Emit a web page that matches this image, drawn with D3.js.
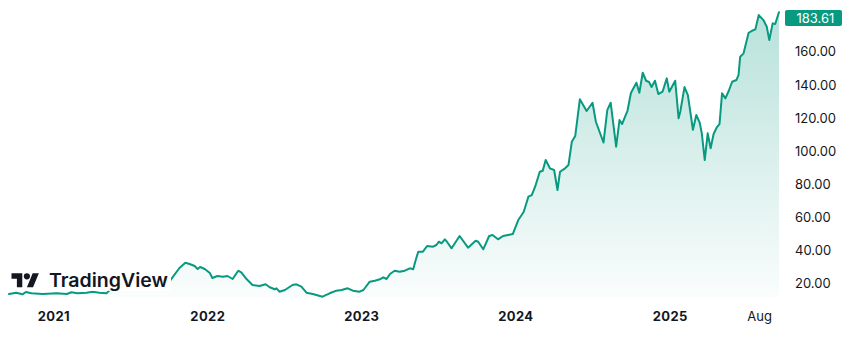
<!DOCTYPE html>
<html>
<head>
<meta charset="utf-8">
<script src="https://cdn.jsdelivr.net/npm/d3@7"></script>
<style>
  html, body { margin: 0; padding: 0; background: #ffffff; }
  svg { display: block; font-family: Inter, Roboto, "Noto Sans", sans-serif; }
</style>
</head>
<body>
<svg id="chart" width="845" height="341"></svg>
<script>
// ---- data (weekly-ish closes, split adjusted) ----
const dates = [
  "2020-09-18","2020-10-05","2020-10-20","2020-10-28","2020-11-10","2020-12-07",
  "2021-01-09","2021-02-02","2021-02-13","2021-02-27","2021-03-21","2021-04-04",
  "2021-04-20","2021-05-07","2021-05-16","2021-05-28","2021-06-07","2021-06-23",
  "2021-07-12","2021-07-29","2021-08-17","2021-09-03","2021-09-17","2021-10-03",
  "2021-10-27","2021-11-10","2021-11-20","2021-12-02","2021-12-09","2021-12-15",
  "2021-12-26","2022-01-07","2022-01-13","2022-01-25","2022-02-07","2022-02-18",
  "2022-03-02","2022-03-12","2022-03-16","2022-03-23","2022-04-04","2022-04-18",
  "2022-05-05","2022-05-19","2022-05-29","2022-06-10","2022-06-14","2022-06-21",
  "2022-07-04","2022-07-22","2022-07-31","2022-08-12","2022-08-24","2022-09-08",
  "2022-10-01","2022-10-18","2022-11-03","2022-11-15","2022-11-30","2022-12-12",
  "2022-12-28","2023-01-06","2023-01-21","2023-02-02","2023-02-14","2023-02-22",
  "2023-03-02","2023-03-10","2023-03-21","2023-04-02","2023-04-14","2023-04-26",
  "2023-05-04","2023-05-10","2023-05-16","2023-05-27","2023-06-06","2023-06-20",
  "2023-06-28","2023-07-04","2023-07-10","2023-07-18","2023-07-23","2023-08-03",
  "2023-08-22","2023-09-11","2023-09-29","2023-10-05","2023-10-17","2023-10-31",
  "2023-11-08","2023-11-21","2023-12-03","2023-12-15","2023-12-26","2024-01-08",
  "2024-01-16","2024-01-21","2024-02-01","2024-02-09","2024-02-17","2024-02-28",
  "2024-03-06","2024-03-13","2024-03-23","2024-04-02","2024-04-10","2024-04-16",
  "2024-04-28","2024-05-06","2024-05-14","2024-05-22","2024-06-02","2024-06-18",
  "2024-07-02","2024-07-10","2024-07-28","2024-08-06","2024-08-14","2024-08-27",
  "2024-09-04","2024-09-10","2024-09-23","2024-10-01","2024-10-14","2024-10-21",
  "2024-10-29","2024-11-06","2024-11-13","2024-11-19","2024-11-27","2024-12-05",
  "2024-12-15","2024-12-25","2024-12-31","2025-01-14","2025-01-22","2025-01-26",
  "2025-02-05","2025-02-13","2025-02-25","2025-03-05","2025-03-13","2025-03-18",
  "2025-03-25","2025-04-01","2025-04-08","2025-04-15","2025-04-23","2025-04-29",
  "2025-05-05","2025-05-13","2025-05-21","2025-05-29","2025-06-08","2025-06-13",
  "2025-06-17","2025-06-25","2025-07-07","2025-07-15","2025-07-23","2025-07-31",
  "2025-08-11","2025-08-19","2025-08-25","2025-09-02","2025-09-08","2025-09-17"
];
const closes = [
  13.54,14.33,13.36,14.75,13.97,13.54,
  13.97,13.54,14.57,13.97,14.33,14.93,
  14.33,13.97,16.2,16.4,17.5,19.0,
  20.1,19.6,19.8,22.6,21.9,20.97,
  29.23,32.43,31.64,30.44,28.63,29.83,
  28.63,26.21,23.2,24.4,23.98,24.4,
  22.59,26.4,27.6,26.4,22.59,18.97,
  18.37,19.4,17.59,16.39,16.98,14.93,
  15.96,18.97,19.4,17.95,14.33,13.54,
  11.92,13.97,15.54,15.96,16.98,15.54,
  14.93,15.96,20.97,21.57,22.41,23.62,
  22.59,25.61,27.6,27.0,27.6,29.05,
  28.45,34.06,39.06,39.06,42.5,42.08,
  43.11,45.1,44.13,46.55,45.1,41.12,
  48.54,41.48,45.7,45.1,40.51,48.54,
  49.14,46.55,48.54,49.14,49.74,58.19,
  61.21,63.2,72.25,73.27,78.28,87.33,
  87.93,94.39,89.38,88.35,76.29,87.33,
  89.38,91.37,105.43,108.87,131.0,123.95,
  128.96,117.5,104.95,124.55,128.96,102.41,
  118.52,116.11,124.25,134.81,141.02,134.99,
  147.06,142.23,141.45,138.43,142.23,134.21,
  135.6,143.68,135.6,142.23,119.55,123.53,
  138.43,133.6,112.67,121.54,117.01,110.5,
  94.39,110.5,101.45,110.07,114.3,116.11,
  134.63,131.61,136.2,141.63,142.65,145.67,
  156.71,158.76,171.19,172.39,173.24,181.87,
  178.85,174.81,166.78,176.86,176.44,183.61
];
const priceTicks = [20, 40, 60, 80, 100, 120, 140, 160];
const timeTicks = [
  { date: "2021-01-01", label: "2021", bold: true },
  { date: "2022-01-01", label: "2022", bold: true },
  { date: "2023-01-01", label: "2023", bold: true },
  { date: "2024-01-01", label: "2024", bold: true },
  { date: "2025-01-01", label: "2025", bold: true },
  { date: "2025-08-01", label: "Aug",  bold: false }
];
const lastPrice = closes[closes.length - 1];

// ---- layout ----
const W = 845, H = 341;
const plotLeft = 9, plotRight = 779, plotBottom = 297;
const lineColor = "#089981";
const textColor = "#131722";

const parse = d3.timeParse("%Y-%m-%d");
const data = dates.map((d, i) => ({ date: parse(d), value: closes[i] }));

const x = d3.scaleTime()
  .domain(d3.extent(data, d => d.date))
  .range([plotLeft, plotRight]);
const y = d3.scaleLinear()
  .domain([20, 160])
  .range([283.3, 51.3]);

const svg = d3.select("#chart");
svg.append("rect").attr("width", W).attr("height", H).attr("fill", "#fff");

const defs = svg.append("defs");
const grad = defs.append("linearGradient")
  .attr("id", "areaGrad")
  .attr("gradientUnits", "userSpaceOnUse")
  .attr("x1", 0).attr("x2", 0)
  .attr("y1", y(d3.max(closes))).attr("y2", plotBottom);
grad.append("stop").attr("offset", "0%").attr("stop-color", lineColor).attr("stop-opacity", 0.29);
grad.append("stop").attr("offset", "100%").attr("stop-color", lineColor).attr("stop-opacity", 0.02);

const area = d3.area()
  .x(d => x(d.date))
  .y0(plotBottom)
  .y1(d => y(d.value));
const line = d3.line()
  .x(d => x(d.date))
  .y(d => y(d.value));

svg.append("path").datum(data).attr("d", area).attr("fill", "url(#areaGrad)");
svg.append("path").datum(data).attr("d", line)
  .attr("fill", "none")
  .attr("stroke", lineColor)
  .attr("stroke-width", 2)
  .attr("stroke-linejoin", "round")
  .attr("stroke-linecap", "round");

// ---- right price axis ----
const yAxis = d3.axisRight(y)
  .tickValues(priceTicks)
  .tickFormat(d3.format(".2f"))
  .tickSize(0)
  .tickPadding(0);
const yg = svg.append("g").attr("transform", "translate(795,0)").call(yAxis);
yg.select(".domain").remove();
yg.selectAll("text")
  .attr("fill", textColor)
  .attr("font-size", 13)
  .attr("font-family", "Inter, Roboto, sans-serif")
  .attr("dy", "0.35em");

// last price label
const labelTop = Math.max(10, y(lastPrice) - 8);
svg.append("rect")
  .attr("x", 785).attr("y", labelTop)
  .attr("width", 57).attr("height", 16)
  .attr("rx", 2)
  .attr("fill", lineColor);
svg.append("text")
  .attr("x", 796.5).attr("y", labelTop + 8)
  .attr("dy", "0.35em")
  .attr("fill", "#fff")
  .attr("font-size", 13)
  .text(d3.format(".2f")(lastPrice));

// ---- bottom time axis ----
const xAxis = d3.axisBottom(x)
  .tickValues(timeTicks.map(t => parse(t.date)))
  .tickFormat((d, i) => timeTicks[i].label)
  .tickSize(0)
  .tickPadding(0);
const xg = svg.append("g").attr("transform", "translate(0,312)").call(xAxis);
xg.select(".domain").remove();
xg.selectAll("text")
  .attr("fill", textColor)
  .attr("font-size", 13)
  .attr("font-family", "Inter, Roboto, sans-serif")
  .attr("font-weight", (d, i) => timeTicks[i].bold ? 700 : 400)
  .attr("letter-spacing", (d, i) => timeTicks[i].bold ? "0.4px" : "0px")
  .attr("dy", "0.71em");

// ---- TradingView watermark ----
const logo = svg.append("g");
logo.append("rect")
  .attr("x", 8).attr("y", 266)
  .attr("width", 163).attr("height", 24.8)
  .attr("fill", "#fff");
const icon = logo.append("g").attr("transform", "translate(11.5,270.2) scale(0.77)").attr("fill", textColor);
icon.append("path").attr("d", "M14 22H7V11H0V4h14v18zM28 22h-8l7.5-18h8L28 22z");
icon.append("circle").attr("cx", 20).attr("cy", 8).attr("r", 4);
logo.append("text")
  .attr("x", 49).attr("y", 287)
  .attr("fill", textColor)
  .attr("font-size", 18.5)
  .attr("font-weight", 600)
  .attr("font-family", "Inter, Roboto, sans-serif")
  .attr("textLength", 119)
  .attr("lengthAdjust", "spacingAndGlyphs")
  .text("TradingView");
</script>
</body>
</html>
